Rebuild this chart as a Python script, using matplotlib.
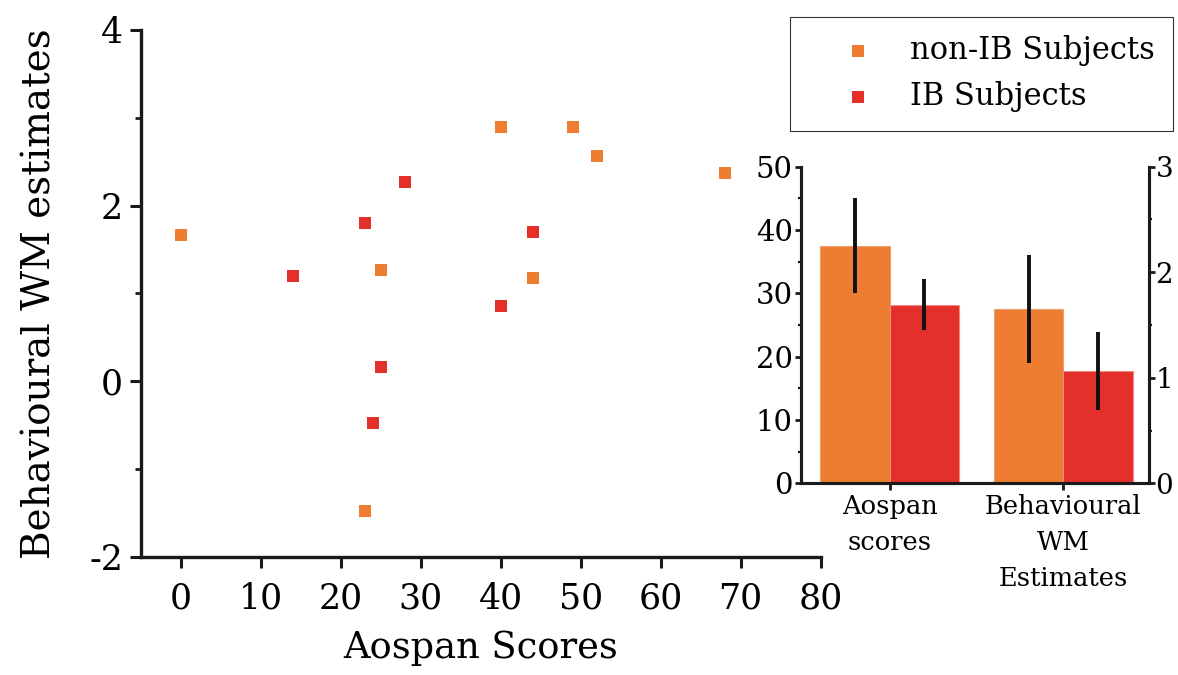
import matplotlib
matplotlib.use("Agg")
import matplotlib.pyplot as plt
from matplotlib.ticker import MultipleLocator

plt.rcParams['font.family'] = ['DejaVu Serif']
plt.rcParams['axes.unicode_minus'] = False

# ---- data ----
nonib_aospan = [0, 25, 23, 40, 49, 52, 68, 44]
nonib_wm = [1.67, 1.27, -1.48, 2.90, 2.90, 2.56, 2.37, 1.17]
ib_aospan = [14, 23, 28, 25, 24, 44, 40]
ib_wm = [1.20, 1.80, 2.27, 0.16, -0.48, 1.70, 0.86]

bar_groups = ["Aospan\nscores", "Behavioural\nWM\nEstimates"]
aospan_means = [37.5, 28.2]      # non-IB, IB
aospan_err = [7.5, 4.0]
wm_means = [1.65, 1.06]          # non-IB, IB
wm_err = [0.51, 0.37]

series_labels = ["non-IB Subjects", "IB Subjects"]
c_orange = "#EE7D31"
c_red = "#E3302B"
spine_c = "#1a1a1a"

fig = plt.figure(figsize=(11.78, 6.75), dpi=100)

# ---- main scatter ----
ax = fig.add_axes([0.1197, 0.175, 0.577, 0.7806])
ax.scatter(nonib_aospan, nonib_wm, marker='s', s=80, color=c_orange, linewidths=0, label=series_labels[0], zorder=3)
ax.scatter(ib_aospan, ib_wm, marker='s', s=80, color=c_red, linewidths=0, label=series_labels[1], zorder=3)
ax.set_xlim(-5, 80)
ax.set_ylim(-2, 4)
ax.xaxis.set_major_locator(MultipleLocator(10))
ax.yaxis.set_major_locator(MultipleLocator(2))
ax.yaxis.set_minor_locator(MultipleLocator(1))
for s in ['top', 'right']:
    ax.spines[s].set_visible(False)
for s in ['left', 'bottom']:
    ax.spines[s].set_linewidth(2.4)
    ax.spines[s].set_color(spine_c)
ax.tick_params(axis='both', which='major', direction='out', length=8, width=2.2, labelsize=25, color=spine_c)
ax.tick_params(axis='x', which='major', pad=10)
ax.tick_params(axis='y', which='major', pad=5)
ax.tick_params(axis='y', which='minor', direction='out', length=4, width=2.0, color=spine_c)
ax.set_xlabel("Aospan Scores", fontsize=26.5, labelpad=10)
ax.set_ylabel("Behavioural WM estimates", fontsize=28, labelpad=22)

# ---- inset bars ----
ins = fig.add_axes([0.680, 0.284, 0.295, 0.469])
ins.set_facecolor('none')
w = 0.4
ins.bar([0 - w/2], [aospan_means[0]], width=w, color=c_orange, edgecolor="#e8a070", linewidth=0.8, zorder=2)
ins.bar([0 + w/2], [aospan_means[1]], width=w, color=c_red, edgecolor="#ee8a80", linewidth=0.8, zorder=2)
ins.errorbar([0 - w/2, 0 + w/2], aospan_means, yerr=aospan_err, fmt='none', ecolor='#111111', elinewidth=2.8, capsize=0, zorder=4)
ins.set_ylim(0, 50)
ins.set_xlim(-0.51, 1.49)
ins.yaxis.set_major_locator(MultipleLocator(10))
ins.yaxis.set_minor_locator(MultipleLocator(5))
ins.set_xticks([0, 1])
ins.set_xticklabels(bar_groups, fontsize=18.5, linespacing=1.55)

tw = ins.twinx()
tw.bar([1 - w/2], [wm_means[0]], width=w, color=c_orange, edgecolor="#e8a070", linewidth=0.8, zorder=2)
tw.bar([1 + w/2], [wm_means[1]], width=w, color=c_red, edgecolor="#ee8a80", linewidth=0.8, zorder=2)
tw.errorbar([1 - w/2, 1 + w/2], wm_means, yerr=wm_err, fmt='none', ecolor='#111111', elinewidth=2.8, capsize=0, zorder=4)
tw.set_ylim(0, 3)
tw.set_xlim(-0.51, 1.49)
tw.yaxis.set_major_locator(MultipleLocator(1))
tw.yaxis.set_minor_locator(MultipleLocator(0.5))

for a in (ins, tw):
    a.spines['top'].set_visible(False)
    for s in ['left', 'right', 'bottom']:
        a.spines[s].set_linewidth(2.2)
        a.spines[s].set_color(spine_c)
    a.tick_params(axis='both', which='major', direction='out', length=4, width=2.0, labelsize=21, color=spine_c, pad=2)
    a.tick_params(axis='y', which='minor', direction='out', length=2, width=1.6, color=spine_c)
tw.tick_params(axis='y', which='major', labelsize=20, pad=1)
ins.tick_params(axis='x', labelsize=18.5, pad=3, length=5)

# ---- legend ----
h, l = ax.get_legend_handles_labels()
leg = fig.legend(h, l, loc='upper left', bbox_to_anchor=(0.671, 0.975), fontsize=22,
                 frameon=True, fancybox=False, edgecolor='#333333', framealpha=1,
                 handletextpad=0.1, borderpad=0.6, labelspacing=0.5, handlelength=3.2,
                 markerscale=0.9, borderaxespad=0)
leg.get_frame().set_linewidth(0.8)

fig.savefig("out.png", dpi=100)
